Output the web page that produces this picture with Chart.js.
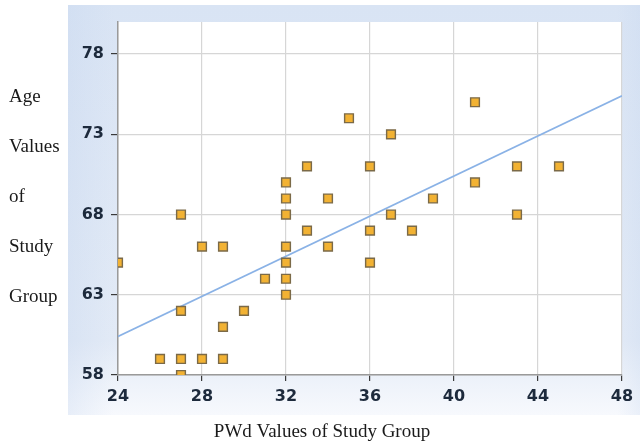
<!DOCTYPE html>
<html>
<head>
<meta charset="utf-8">
<script src="https://cdn.jsdelivr.net/npm/chart.js@4.4.0/dist/chart.umd.min.js"></script>
<style>
  html, body { margin: 0; padding: 0; background: #fff; }
  #wrap { width: 640px; height: 443px; position: relative; }
</style>
</head>
<body>
<div id="wrap"><canvas id="scatter-chart" width="640" height="443"></canvas></div>
<script>
  // PWd (x) and Age (y) for each patient in the study group
  const pwdValues = [24, 26, 27, 27, 27, 27, 28, 28, 29, 29, 29, 30, 31,
    32, 32, 32, 32, 32, 32, 32, 33, 33, 34, 34, 35, 36, 36, 36, 37, 37,
    38, 39, 41, 41, 43, 43, 45];
  const ageValues = [65, 59, 58, 59, 62, 68, 59, 66, 59, 61, 66, 62, 64,
    63, 64, 65, 66, 68, 69, 70, 67, 71, 66, 69, 74, 65, 67, 71, 68, 73,
    67, 69, 70, 75, 68, 71, 71];

  // trend line end points
  const trendX = [24, 48];
  const trendY = [60.4, 75.4];

  const xTicks = [24, 28, 32, 36, 40, 44, 48];
  const yTicks = [58, 63, 68, 73, 78];
  const yTitleLines = ['Age', 'Values', 'of', 'Study', 'Group'];
  const xTitle = 'PWd Values of Study Group';

  const scatterPoints = pwdValues.map((v, i) => ({ x: v, y: ageValues[i] }));
  const trendPoints = trendX.map((v, i) => ({ x: v, y: trendY[i] }));

  const tickFont = { family: 'DejaVu Sans', size: 16, weight: 'bold' };

  // light blue panel behind the plot + the two axis titles
  const panelPlugin = {
    id: 'panel',
    beforeDraw(chart) {
      const ctx = chart.ctx;
      ctx.save();
      let g = ctx.createLinearGradient(0, 5, 0, 415);
      g.addColorStop(0, '#d9e4f4');
      g.addColorStop(0.82, '#e2eaf6');
      g.addColorStop(1, '#f7f9fd');
      ctx.fillStyle = g;
      ctx.fillRect(68, 5, 572, 410);
      let h = ctx.createLinearGradient(68, 0, 640, 0);
      h.addColorStop(0, 'rgba(195,212,238,0.3)');
      h.addColorStop(0.08, 'rgba(195,212,238,0.0)');
      h.addColorStop(0.96, 'rgba(195,212,238,0.0)');
      h.addColorStop(1, 'rgba(195,212,238,0.25)');
      ctx.fillStyle = h;
      ctx.fillRect(68, 5, 572, 410);
      const a = chart.chartArea;
      ctx.fillStyle = '#ffffff';
      ctx.fillRect(a.left, a.top, a.right - a.left, a.bottom - a.top);
      ctx.restore();
    },
    afterDraw(chart) {
      const ctx = chart.ctx;
      ctx.save();
      ctx.fillStyle = '#1a1a1a';
      ctx.font = '19px "Liberation Serif"';
      ctx.textBaseline = 'middle';
      ctx.textAlign = 'left';
      yTitleLines.forEach((t, i) => ctx.fillText(t, 9, 97 + i * 50));
      ctx.textAlign = 'center';
      ctx.fillText(xTitle, 322, 432);
      ctx.restore();
    }
  };

  const chart = new Chart(document.getElementById('scatter-chart'), {
    type: 'scatter',
    data: {
      datasets: [{
        data: scatterPoints,
        pointStyle: 'rect',
        pointRadius: 6.2,
        pointHoverRadius: 6.2,
        backgroundColor: '#f2b233',
        borderColor: '#7b6a48',
        borderWidth: 1.4
      }, {
        type: 'line',
        data: trendPoints,
        borderColor: '#8ab2e6',
        borderWidth: 1.6,
        pointRadius: 0,
        fill: false
      }]
    },
    options: {
      responsive: false,
      animation: false,
      layout: { padding: { left: 68, top: 22, right: 18, bottom: 38 } },
      plugins: {
        legend: { display: false },
        tooltip: { enabled: false }
      },
      scales: {
        x: {
          type: 'linear',
          min: 24,
          max: 48,
          afterBuildTicks: (s) => { s.ticks = xTicks.map(v => ({ value: v })); },
          afterFit: (s) => { s.height = 30; },
          ticks: { font: tickFont, color: '#1d2a3c', padding: 6, maxRotation: 0 },
          grid: { color: '#d6d6d6', tickColor: '#3a3a3a', tickLength: 6, lineWidth: 1.2 },
          border: { color: '#9a9a9a', width: 1.5 }
        },
        y: {
          min: 58,
          max: 80,
          afterBuildTicks: (s) => { s.ticks = yTicks.map(v => ({ value: v })); },
          afterFit: (s) => { s.width = 50; },
          ticks: { font: tickFont, color: '#1d2a3c', padding: 7 },
          grid: { color: '#d6d6d6', tickColor: '#3a3a3a', tickLength: 7, lineWidth: 1.2 },
          border: { color: '#9a9a9a', width: 1.5 }
        }
      }
    },
    plugins: [panelPlugin]
  });
</script>
</body>
</html>
